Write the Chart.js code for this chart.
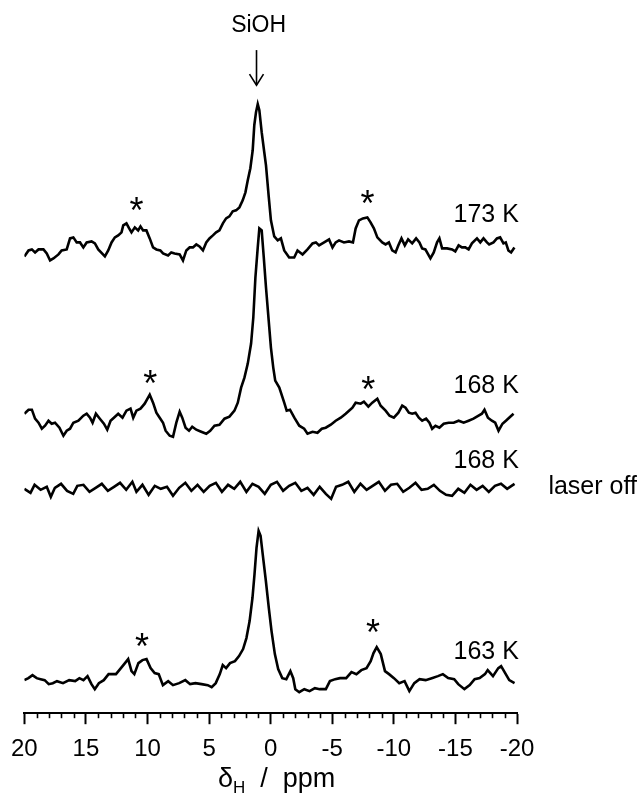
<!DOCTYPE html>
<html>
<head>
<meta charset="utf-8">
<script src="https://cdn.jsdelivr.net/npm/chart.js@4/dist/chart.umd.min.js"></script>
<style>
  html, body { margin: 0; padding: 0; background: #ffffff; }
  #wrap { width: 641px; height: 797px; position: relative; }
</style>
</head>
<body>
<div id="wrap"><canvas id="c" width="641" height="797"></canvas></div>
<script>
// ---------- DATA (chemical shift in ppm, intensity in arbitrary units) ----------
const ppm173 = [20.0,19.66,19.39,19.13,18.85,18.45,18.18,17.91,17.64,17.23,16.97,16.56,16.29,16.02,15.75,15.48,15.21,14.94,14.54,14.27,14.0,13.46,13.19,12.92,12.65,12.38,12.11,11.97,11.71,11.49,11.30,11.03,10.76,10.57,10.36,10.09,9.82,9.55,9.28,8.96,8.74,8.33,8.07,7.80,7.39,7.12,6.85,6.58,6.31,6.04,5.78,5.50,5.23,4.97,4.69,4.43,4.16,3.88,3.62,3.35,3.08,2.81,2.54,2.27,2.05,1.86,1.65,1.46,1.33,1.19,1.05,0.92,0.73,0.52,
  0.38,0.16,-0.02,-0.29,-0.57,-0.83,-1.10,-1.50,-1.91,-2.18,-2.59,-2.99,-3.40,-3.67,-3.93,-4.34,-4.74,-5.02,-5.28,-5.55,-5.95,-6.36,-6.68,-6.90,-7.17,-7.49,-7.85,-8.11,-8.38,-8.66,-9.06,-9.33,-9.60,-9.87,-10.14,-10.36,-10.62,-10.89,-11.16,-11.49,-11.81,-12.08,-12.30,-12.56,-12.97,-13.24,-13.51,-13.70,-13.92,-14.32,-14.73,-14.99,-15.26,-15.53,-15.80,-16.07,-16.34,-16.75,-17.02,-17.28,-17.56,-17.74,-18.09,-18.37,-18.63,-18.90,-19.09,-19.30,-19.52,-19.79];
const int173 = [2,8,9,6,9,9,5,-2,0,4,8,9,20,21,16,16,11,16,17,15,9,2,8,16,21,23,26,33,35,30,26,31,28,32,28,28,20,11,9,8,5,3,6,5,4,-2,8,11,11,14,12,8,16,20,23,26,28,35,40,42,47,48,51,58,66,78,90,108,133,146,154,148,126,106,
  93,62,38,22,18,20,8,1,1,8,4,9,15,16,13,16,19,11,16,18,16,17,16,30,38,40,41,36,30,21,16,14,16,8,6,13,20,13,19,15,20,16,10,9,0,6,16,20,10,10,9,7,13,11,11,9,15,20,16,20,16,14,16,20,21,15,16,8,6,11];

const ppm168 = [20.0,19.66,19.39,19.13,18.85,18.58,18.32,18.04,17.78,17.51,17.15,16.83,16.56,16.29,16.02,15.61,15.21,14.94,14.67,14.46,14.19,13.87,13.54,13.27,13.0,12.73,12.38,12.03,11.71,11.38,11.16,10.90,10.57,10.23,9.82,9.55,9.28,9.01,8.74,8.53,8.20,7.93,7.66,7.39,7.18,6.91,6.63,6.37,6.04,5.64,5.23,4.91,4.56,4.16,3.75,3.35,2.94,2.67,2.40,2.13,1.86,1.59,1.41,1.24,1.05,0.92,0.73,0.56,0.38,
  0.16,-0.02,-0.21,-0.37,-0.70,-1.10,-1.30,-1.57,-1.92,-2.32,-2.72,-2.99,-3.40,-3.80,-4.15,-4.47,-4.88,-5.28,-5.69,-6.09,-6.36,-6.64,-6.90,-7.31,-7.57,-7.93,-8.25,-8.66,-8.93,-9.33,-9.65,-10.0,-10.37,-10.68,-10.95,-11.22,-11.49,-11.76,-12.03,-12.30,-12.62,-12.89,-13.11,-13.38,-13.70,-14.05,-14.45,-14.86,-15.26,-15.67,-16.07,-16.47,-16.88,-17.15,-17.36,-17.64,-17.96,-18.23,-18.50,-18.82,-19.10,-19.45,-19.72];
const int168 = [27,31,31,22,18,12,15,20,17,18,13,5,10,12,18,20,25,27,23,18,27,22,17,11,20,23,27,23,30,32,23,30,32,37,46,38,28,23,18,10,5,4,18,29,23,13,10,14,11,9,7,10,15,16,22,24,30,38,53,63,77,97,123,163,193,212,210,183,153,
  120,93,73,60,53,38,30,31,23,15,12,7,9,8,12,13,16,20,23,27,30,33,38,37,39,34,38,42,35,30,25,23,28,35,33,28,27,28,23,20,22,18,12,15,13,17,18,18,20,18,20,22,25,27,31,23,20,18,10,17,20,24,27];

const ppmOff = [20.0,19.5,19.17,18.68,18.18,17.85,17.52,17.02,16.53,16.03,15.70,15.20,14.71,14.21,13.71,13.22,12.72,12.23,11.73,11.23,10.90,10.41,9.91,9.41,8.92,8.42,7.93,7.43,6.93,6.44,5.94,5.44,4.95,4.45,3.96,3.46,2.96,2.47,1.97,1.48,0.98,0.48,-0.01,-0.51,-1.01,-1.50,-2.0,-2.49,-2.99,-3.49,-3.98,-4.48,-4.91,-5.31,-5.80,-6.30,-6.79,-7.29,-7.79,-8.28,-8.78,-9.28,-9.77,-10.27,-10.76,-11.26,-11.76,-12.25,-12.75,-13.25,-13.74,-14.24,-14.73,-15.23,-15.73,-16.22,-16.72,-17.21,-17.71,-18.21,-18.70,-19.20,-19.80];
const intOff = [12,8,16,11,14,4,13,17,10,7,15,16,9,13,17,10,14,18,11,19,9,16,6,15,12,14,5,13,18,10,16,9,15,18,9,16,12,19,9,17,14,7,16,19,10,15,18,10,13,6,14,7,2,14,16,19,9,17,11,15,19,10,16,17,9,13,18,11,12,16,10,6,5,12,8,16,11,15,9,15,17,12,17];

const ppm163 = [20.0,19.67,19.34,19.0,18.68,18.35,18.02,17.69,17.35,16.86,16.36,15.87,15.53,15.20,14.87,14.55,14.28,13.95,13.55,13.16,12.56,12.16,11.83,11.57,11.30,11.07,10.74,10.41,10.08,9.75,9.42,9.09,8.75,8.32,7.93,7.43,6.93,6.54,6.11,5.61,5.11,4.79,4.46,4.13,3.89,3.62,3.30,2.90,2.57,2.24,1.97,1.71,1.48,1.31,1.15,0.98,0.82,0.65,0.39,0.15,-0.07,-0.34,-0.61,-0.94,-1.27,-1.60,-1.83,-2.0,-2.32,-2.73,-3.16,-3.59,-3.98,-4.48,-4.81,-5.24,-5.63,-6.13,-6.56,-6.96,-7.36,-7.78,-8.12,-8.35,-8.61,-8.94,-9.28,-9.61,-10.01,-10.44,-10.87,-11.26,-11.66,-12.09,-12.58,-13.08,-13.58,-13.98,-14.41,-14.90,-15.23,-15.73,-16.16,-16.56,-16.97,-17.40,-17.62,-18.05,-18.48,-18.71,-19.04,-19.37,-19.80];
const int163 = [13,15,18,15,14,13,9,10,12,10,13,12,15,13,17,9,4,10,13,19,19,25,30,34,22,19,30,33,34,25,20,19,8,12,8,10,13,9,10,9,8,6,10,19,28,25,30,32,37,44,55,72,95,119,145,162,157,139,112,85,62,39,24,15,14,22,15,4,1,4,2,5,4,4,12,14,15,15,21,19,23,25,32,40,46,39,22,19,15,10,12,2,10,14,13,15,17,19,15,14,9,4,8,14,15,19,23,17,25,27,20,13,10];

// vertical stacking offsets of the four spectra
const offsets = { k173: 454, k168: 272, off: 212, k163: 20 };

// x-axis ticks
const xMin = -20, xMax = 20, majorStep = 5, minorStep = 1;

// text annotations [text, ppm, value]
const tempLabels = [["173 K", -17.5, 490], ["168 K", -17.5, 320], ["168 K", -17.5, 245], ["163 K", -17.5, 54]];
const asterisks = [[10.90, 507], [-7.87, 514], [9.77, 335], [-7.93, 329], [10.44, 72], [-8.30, 86]];

function series(ppm, inten, off) {
  return ppm.map((p, i) => ({ x: p, y: off + inten[i] }));
}

const FONT = "'Liberation Sans', Arial, Helvetica, sans-serif";

const decor = {
  id: 'decor',
  afterDraw(chart) {
    const ctx = chart.ctx, xs = chart.scales.x, ys = chart.scales.y;
    const bottom = chart.chartArea.bottom;
    ctx.save();
    // minor ticks
    ctx.strokeStyle = '#000'; ctx.lineWidth = 1.6;
    for (let v = xMin; v <= xMax; v += minorStep) {
      if (v % majorStep === 0) continue;
      const px = Math.round(xs.getPixelForValue(v)) + 0.5;
      ctx.beginPath(); ctx.moveTo(px, bottom); ctx.lineTo(px, bottom + 5); ctx.stroke();
    }
    ctx.fillStyle = '#000';
    // temperature labels
    ctx.font = '25px ' + FONT; ctx.textAlign = 'center'; ctx.textBaseline = 'alphabetic';
    tempLabels.forEach(([t, p, v]) => ctx.fillText(t, xs.getPixelForValue(p), ys.getPixelForValue(v)));
    // laser off
    ctx.textAlign = 'left';
    ctx.fillText('laser off', xs.getPixelForValue(-22.55), ys.getPixelForValue(219));
    // asterisks
    ctx.font = '36px ' + FONT; ctx.textAlign = 'center';
    asterisks.forEach(([p, v]) => ctx.fillText('*', xs.getPixelForValue(p), ys.getPixelForValue(v) + 18));
    // SiOH + arrow
    ctx.font = '23px ' + FONT;
    ctx.fillText('SiOH', xs.getPixelForValue(0.98), ys.getPixelForValue(680));
    const ax = xs.getPixelForValue(1.15), ay1 = ys.getPixelForValue(662), ay2 = ys.getPixelForValue(627);
    ctx.lineWidth = 1.6;
    ctx.beginPath(); ctx.moveTo(ax, ay1); ctx.lineTo(ax, ay2); ctx.stroke();
    ctx.beginPath(); ctx.moveTo(ax - 7, ay2 - 11); ctx.lineTo(ax, ay2); ctx.lineTo(ax + 7, ay2 - 11); ctx.stroke();
    // axis title  δH / ppm
    const tx = 218, ty = 787;
    ctx.textAlign = 'left';
    ctx.font = '27px ' + FONT;
    ctx.fillText('δ', tx, ty);
    let w = ctx.measureText('δ').width;
    ctx.font = '17px ' + FONT;
    ctx.fillText('H', tx + w, ty + 6);
    w += ctx.measureText('H').width;
    ctx.font = '27px ' + FONT;
    ctx.fillText('  /  ppm', tx + w, ty);
    ctx.restore();
  }
};

const lineStyle = { borderColor: '#000', borderWidth: 2.6, pointRadius: 0, fill: false, tension: 0, borderJoinStyle: 'miter' };

new Chart(document.getElementById('c'), {
  type: 'line',
  data: {
    datasets: [
      Object.assign({ label: '173 K', data: series(ppm173, int173, offsets.k173) }, lineStyle),
      Object.assign({ label: '168 K', data: series(ppm168, int168, offsets.k168) }, lineStyle),
      Object.assign({ label: '168 K laser off', data: series(ppmOff, intOff, offsets.off) }, lineStyle),
      Object.assign({ label: '163 K', data: series(ppm163, int163, offsets.k163) }, lineStyle)
    ]
  },
  options: {
    responsive: false,
    animation: false,
    devicePixelRatio: 1,
    layout: { padding: { left: 22.5, right: 124, top: 0, bottom: 22 } },
    plugins: { legend: { display: false }, tooltip: { enabled: false } },
    scales: {
      x: {
        type: 'linear', reverse: true, min: xMin, max: xMax,
        border: { display: true, color: '#000', width: 2 },
        grid: { drawOnChartArea: false, drawTicks: true, tickLength: 11, tickWidth: 2, tickColor: '#000' },
        ticks: { stepSize: majorStep, color: '#000', padding: 11, font: { family: FONT, size: 24 }, maxRotation: 0 }
      },
      y: { display: false, min: 0, max: 712 }
    }
  },
  plugins: [decor]
});
</script>
</body>
</html>
